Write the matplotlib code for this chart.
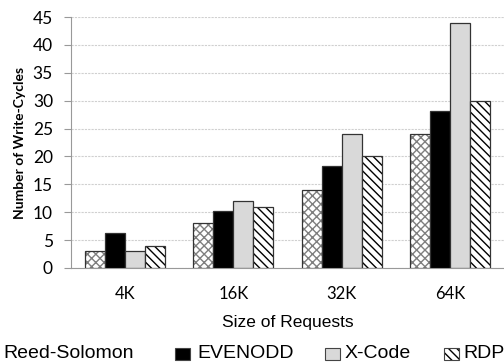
import numpy as np
import matplotlib.pyplot as plt
from matplotlib.colors import to_rgba
from matplotlib.patches import Rectangle

sizes = ["4K", "16K", "32K", "64K"]
codes = ["Reed-Solomon", "EVENODD", "X-Code", "RDP"]
reed_solomon = [3.0, 8.0, 14.0, 24.0]
evenodd = [6.2, 10.2, 18.2, 28.2]
xcode = [3.0, 12.0, 24.0, 43.9]
rdp = [3.9, 10.9, 20.0, 29.9]

values = [reed_solomon, evenodd, xcode, rdp]
faces = ["white", "black", "#d9d9d9", "white"]
hatches = ["xxxx", None, None, "\\\\\\\\"]
hatch_cols = ["#7f7f7f", "black", "black", "black"]

W, H = 504, 363
plt.rcParams["hatch.linewidth"] = 1.0

fig = plt.figure(figsize=(W / 100, H / 100), dpi=100)
ax = fig.add_axes([71 / W, 1 - 268 / H, 433 / W, 251 / H])

x = np.arange(len(sizes))
w = 0.185
for i, (vals, fc, h, hc) in enumerate(zip(values, faces, hatches, hatch_cols)):
    off = (i - 1.5) * w
    bars = ax.bar(x + off, vals, w, color=fc, edgecolor="#333333", linewidth=0.9,
                  hatch=h, zorder=3)
    if h:
        for b in bars:
            b._hatch_color = to_rgba(hc)

ax.set_xlim(-0.5, 3.5)
ax.set_ylim(0, 45)
ax.set_yticks(range(0, 46, 5))
ax.set_xticks(x)
ax.set_xticklabels(sizes, fontsize=12, family="Lato")
ax.tick_params(axis="x", length=0, pad=13)
ax.tick_params(axis="y", length=5, color="#999999", labelsize=12.5, pad=8)
for lab in ax.get_yticklabels():
    lab.set_family("Lato")
ax.grid(axis="y", color="#d0d0d0", linestyle=(0, (2, 1)), linewidth=0.8, zorder=0)
for s in ["top", "right"]:
    ax.spines[s].set_visible(False)
for s in ["left", "bottom"]:
    ax.spines[s].set_color("#999999")

ax.set_ylabel("Number of Write-Cycles", fontsize=10, fontweight="bold", family="Lato", labelpad=5)
ax.set_xlabel("Size of Requests", fontsize=12.5, family="Liberation Sans", labelpad=9)

# legend drawn by hand: Excel spreads the entries evenly and the first
# swatch falls off the left edge of the picture
leg_patch_x = [-30, 175, 325, 444]
leg_text_x = [3, 197, 345, 463]
leg_y = 354
for i in range(4):
    r = Rectangle((leg_patch_x[i] / W, (H - leg_y - 6) / H), 15 / W, 12 / H,
                  transform=fig.transFigure, facecolor=faces[i], edgecolor="#444444",
                  linewidth=0.8, hatch=hatches[i])
    if hatches[i]:
        r._hatch_color = to_rgba(hatch_cols[i])
    fig.patches.append(r)
    fig.text(leg_text_x[i] / W, (H - leg_y) / H, codes[i], ha="left", va="center",
             fontsize=14, family="Liberation Sans")

fig.savefig("out.png", dpi=100)
